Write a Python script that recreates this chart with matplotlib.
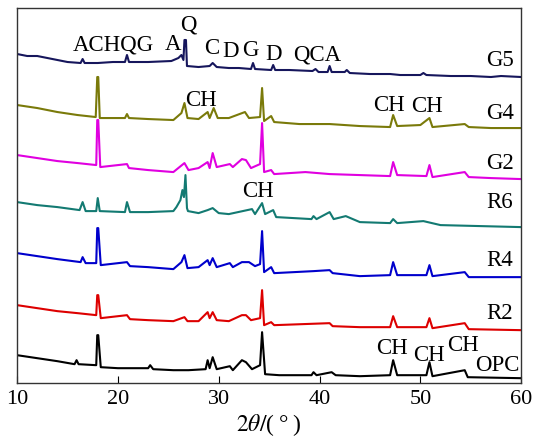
import matplotlib
matplotlib.use('Agg')
import matplotlib.pyplot as plt
import numpy as np

# stacked XRD patterns, (2theta, intensity incl. offset)
g5 = np.array([(10, 329), (11, 327), (12, 327), (13, 325), (14, 323), (15, 321), (16.3, 320), (16.5, 324),
               (16.7, 320), (18, 320), (19.5, 321), (20.7, 321), (20.9, 328), (21.1, 321), (23, 321),
               (25.3, 322), (26.0, 325), (26.3, 328), (26.5, 323), (26.6, 343), (26.75, 343), (26.85, 317),
               (28, 316), (29.1, 317), (29.4, 320), (29.8, 316), (31, 315), (32, 315), (33.2, 314),
               (33.4, 320), (33.6, 314), (35.2, 313), (35.4, 318), (35.6, 313), (37, 313), (39.3, 312),
               (39.6, 314), (39.9, 311), (40.8, 311), (41.0, 317), (41.2, 311), (42.5, 311), (42.7, 313),
               (43, 310), (45, 309), (47, 309), (48, 308), (50, 308), (50.3, 310), (50.6, 308), (53, 307),
               (55, 307), (57, 306), (58, 307), (60, 306)])
g4 = np.array([(10, 278), (12, 275), (14, 271), (16, 268), (17.8, 266), (17.95, 306), (18.05, 306), (18.2, 265),
               (20.7, 265), (20.9, 269), (21.1, 265), (23, 264), (25.5, 263), (26.3, 270), (26.6, 280),
               (26.9, 265), (28, 264), (28.9, 271), (29.1, 265), (29.5, 275), (29.9, 265), (31, 265),
               (32.6, 271), (33, 265), (34.1, 266), (34.3, 295), (34.5, 262), (35.2, 267), (35.5, 261),
               (38, 259), (41, 259), (44, 257), (47.0, 256), (47.3, 268), (47.7, 257), (50, 258),
               (50.9, 265), (51.2, 256), (54.4, 259), (54.8, 256), (57, 255), (60, 255)])
g2 = np.array([(10, 228), (12, 225), (14, 222), (16, 220), (17.85, 218), (17.95, 263), (18.05, 263), (18.25, 216),
               (20.9, 219), (21.1, 215), (23, 213), (25.5, 211), (26.6, 220), (27, 213), (28, 215),
               (28.9, 221), (29.1, 215), (29.4, 230), (29.8, 216), (31.1, 219), (31.4, 216), (32.3, 224),
               (32.7, 223), (33.2, 215), (34.1, 219), (34.3, 260), (34.5, 211), (35.2, 213), (35.5, 209),
               (38.6, 211), (41, 209), (44, 208), (47.0, 207), (47.3, 221), (47.7, 208), (50.6, 207),
               (50.9, 218), (51.2, 206), (54.4, 211), (54.8, 206), (57, 205), (60, 204)])
r6 = np.array([(10, 181), (12, 178), (14, 176), (16.2, 173), (16.5, 181), (16.8, 172), (17.85, 172), (18.0, 185),
               (18.2, 172), (20.7, 171), (20.9, 181), (21.2, 171), (23, 171), (25.5, 172), (25.8, 176),
               (26.2, 183), (26.4, 193), (26.55, 186), (26.7, 208), (26.85, 175), (26.95, 172), (28, 170),
               (28.9, 173), (29.4, 175), (30, 170), (31, 169), (33.3, 174), (33.6, 169), (34.3, 180),
               (34.6, 169), (35.4, 173), (35.7, 166), (39.2, 164), (39.4, 167), (39.7, 164), (41.0, 171),
               (41.4, 164), (42.6, 167), (44, 161), (47.0, 160), (47.3, 164), (47.7, 160), (50.3, 162),
               (52, 158), (56, 157), (60, 156)])
r4 = np.array([(10, 130), (12, 127), (14, 124), (16.3, 121), (16.5, 126), (16.8, 120), (17.85, 120), (17.95, 155),
               (18.05, 155), (18.3, 118), (20.9, 121), (21.2, 117), (23, 116), (25.5, 114), (26.3, 121),
               (26.6, 128), (26.9, 115), (28, 116), (28.9, 123), (29.1, 118), (29.4, 125), (29.8, 116),
               (31.1, 120), (31.4, 116), (32.3, 121), (33, 121), (33.6, 117), (34.1, 119), (34.3, 152),
               (34.5, 111), (35.2, 116), (35.5, 110), (39.4, 112), (41.0, 113), (41.3, 110), (44, 107),
               (47.0, 108), (47.3, 121), (47.7, 108), (50.6, 108), (50.9, 118), (51.2, 107), (54.4, 111),
               (54.8, 106), (60, 106)])
r2 = np.array([(10, 78), (12, 75), (14, 72), (16, 70), (17.85, 68), (17.95, 88), (18.05, 88), (18.3, 65),
               (20.9, 68), (21.2, 64), (23, 63), (25.5, 62), (26.6, 66), (26.9, 62), (28, 62), (28.9, 71),
               (29.1, 65), (29.4, 71), (29.8, 63), (31, 62), (32.3, 68), (32.7, 68), (33.2, 63), (34.1, 65),
               (34.3, 93), (34.5, 58), (35.2, 61), (35.5, 58), (41, 60), (41.3, 57), (44, 56), (47.0, 56),
               (47.3, 67), (47.7, 56), (50.6, 56), (50.9, 65), (51.2, 55), (54.4, 60), (54.8, 54), (60, 53)])
opc = np.array([(10, 28), (12, 25), (14, 22), (15.7, 19), (15.9, 23), (16.1, 19), (17.85, 18), (17.95, 48),
                (18.05, 48), (18.3, 16), (20, 15), (23.0, 15), (23.2, 18), (23.5, 14), (25.5, 13), (27, 13),
                (28.7, 14), (28.9, 23), (29.1, 15), (29.4, 26), (29.8, 14), (31.1, 17), (31.4, 13), (32.3, 23),
                (32.7, 21), (33.3, 14), (34.1, 18), (34.3, 51), (34.6, 9), (36, 8), (39.2, 8), (39.4, 11),
                (39.7, 8), (41.2, 11), (41.6, 8), (44, 7), (47.0, 8), (47.3, 23), (47.7, 8), (50.6, 8),
                (50.9, 21), (51.2, 7), (54.4, 13), (54.7, 6), (60, 5)])

samples = ['G5', 'G4', 'G2', 'R6', 'R4', 'R2', 'OPC']
patterns = [g5, g4, g2, r6, r4, r2, opc]
colors = ['#16165c', '#7a7a0a', '#e000e0', '#137a72', '#0000cc', '#dd0000', '#000000']
# sample label positions (2theta, y)
sample_pos = [(57.9, 323), (57.9, 270), (57.9, 220), (57.9, 181), (57.9, 123), (57.9, 70), (57.6, 18)]

# phase marks: text, 2theta, y
phase_text = ['ACHQG', 'A', 'Q', 'C', 'D', 'G', 'D', 'QCA', 'CH', 'CH', 'CH', 'CH', 'CH', 'CH', 'CH']
phase_x = [19.5, 25.5, 27.0, 29.3, 31.2, 33.1, 35.4, 39.8, 28.2, 33.9, 46.9, 50.7, 47.2, 50.9, 54.2]
phase_y = [338, 338, 358, 334, 331, 332, 329, 328, 283, 192, 278, 277, 35, 28, 38]

plt.rcParams['font.family'] = 'Liberation Serif'
plt.rcParams['mathtext.fontset'] = 'stix'

fig = plt.figure(figsize=(5.34, 4.43), dpi=100)
ax = fig.add_axes([0.032, 0.135, 0.944, 0.847])

for pat, c in zip(patterns, colors):
    ax.plot(pat[:, 0], pat[:, 1], color=c, lw=1.5)

for name, (sx, sy) in zip(samples, sample_pos):
    ax.text(sx, sy, name, fontsize=16.5, ha='center', va='center')

for t, px, py in zip(phase_text, phase_x, phase_y):
    ax.text(px, py, t, fontsize=16.5, ha='center', va='center')

ax.set_xlim(10, 60)
ax.set_ylim(0, 375)
ax.set_yticks([])
ax.set_xticks([10, 20, 30, 40, 50, 60])
ax.tick_params(axis='x', direction='in', length=5, labelsize=16, pad=5)
ax.set_xlabel('$\\mathit{2\\theta/}$(\u2009°\u2009)', fontsize=17, labelpad=2)
for s in ax.spines.values():
    s.set_color('#333333')
    s.set_linewidth(1.0)

fig.savefig('out.png', dpi=100)
